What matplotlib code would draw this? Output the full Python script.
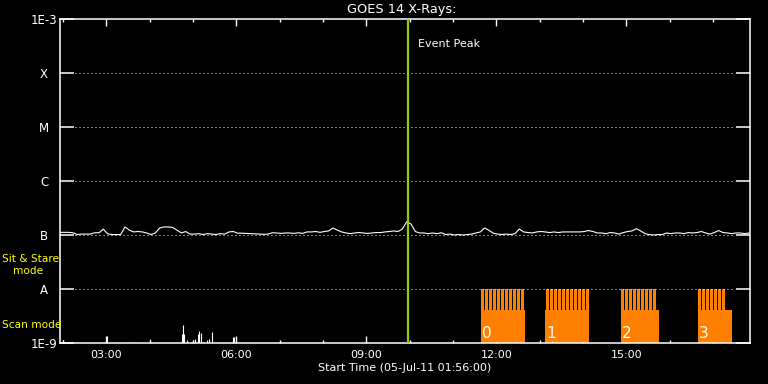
import numpy as np
import matplotlib
matplotlib.use('Agg')
import matplotlib.pyplot as plt
from matplotlib.ticker import FixedLocator, FuncFormatter

# GOES 14 long channel (1-8 A), units of 1e-8 W/m^2, one sample every 6 min from 01:56
t_start = 1 + 56 / 60
step_hr = 0.1
long_flux = [
    11.2, 11.2, 11.2, 11.0, 10.2, 10.4, 10.4, 10.4, 11.0, 11.0,
    12.8, 10.5, 10.2, 10.2, 10.2, 14.1, 12.3, 11.4, 11.6, 11.4,
    10.9, 10.2, 10.9, 13.5, 14.1, 14.1, 13.8, 12.3, 10.9, 11.6,
    10.4, 10.4, 10.6, 10.2, 10.6, 10.4, 10.2, 10.6, 10.4, 11.4,
    11.6, 10.8, 10.8, 10.7, 10.6, 10.5, 10.4, 10.3, 10.4, 11.0,
    10.9, 10.7, 10.9, 10.9, 10.7, 11.0, 10.7, 11.4, 11.4, 11.6,
    11.2, 11.6, 11.9, 13.5, 12.3, 11.4, 10.9, 10.6, 10.9, 11.1,
    10.9, 10.7, 10.9, 11.1, 11.1, 11.4, 11.6, 11.9, 11.6, 12.9,
    17.5, 16.0, 11.6, 10.9, 10.9, 10.6, 10.9, 10.6, 11.0, 10.2,
    10.4, 10.0, 10.2, 10.0, 10.2, 10.4, 10.9, 11.4, 13.5, 12.2,
    10.8, 10.4, 10.2, 10.4, 10.2, 10.6, 12.9, 11.4, 11.1, 10.9,
    11.4, 11.6, 11.4, 11.1, 11.4, 11.1, 11.4, 11.4, 11.4, 11.4,
    11.4, 11.6, 12.1, 11.6, 10.9, 10.9, 10.6, 11.1, 10.9, 10.4,
    11.1, 11.6, 11.9, 13.1, 11.9, 10.6, 10.2, 10.0, 10.2, 10.2,
    10.9, 10.6, 10.9, 10.9, 10.6, 11.1, 10.9, 11.1, 11.6, 10.9,
    10.4, 11.1, 12.1, 11.1, 10.9, 10.6, 10.9, 10.9, 10.6, 10.9,
]

# short channel spikes above the 1E-9 floor (hour, units of 1e-9 W/m^2)
short_times = [2.003, 3.018, 3.618, 4.010, 4.756, 4.779, 4.802, 4.857, 4.996, 5.042,
               5.125, 5.148, 5.187, 5.333, 5.379, 5.448, 5.919, 5.956, 13.287]
short_flux = [1.14, 1.35, 1.04, 1.19, 1.47, 2.15, 1.47, 1.14, 1.14, 1.19,
              1.47, 1.67, 1.53, 1.14, 1.19, 1.60, 1.29, 1.29, 1.09]

# observing blocks (scan mode base + sit & stare scans)
block_names = ['0', '1', '2', '3']
block_start = [11.649, 13.126, 14.880, 16.657]
block_end = [12.664, 14.141, 15.757, 17.441]
scan_times = [
    [11.649, 11.741, 11.834, 11.926, 12.018, 12.111, 12.203, 12.295, 12.387, 12.480, 12.572],
    [13.145, 13.237, 13.330, 13.422, 13.514, 13.607, 13.699, 13.791, 13.884, 13.976, 14.068],
    [14.880, 14.972, 15.065, 15.157, 15.249, 15.342, 15.434, 15.526, 15.618],
    [16.657, 16.749, 16.842, 16.934, 17.026, 17.119, 17.211],
]
scan_width = 0.074
block_level = 4.1e-9
scan_level = 1e-8

event_peak = 9.97
x_end = 17.857

class_levels = [1e-3, 1e-4, 1e-5, 1e-6, 1e-7, 1e-8, 1e-9]
class_labels = ['1E-3', 'X', 'M', 'C', 'B', 'A', '1E-9']

orange = '#ff8000'
peak_color = '#99cc00'

fig = plt.figure(figsize=(7.68, 3.84), dpi=100, facecolor='black')
ax = fig.add_axes([60 / 768, 41 / 384, 690 / 768, 324 / 384], facecolor='black')
ax.set_yscale('log')
ax.set_ylim(1e-9, 1e-3)
ax.set_xlim(t_start, x_end)

# observing blocks
for name, s, e, scans in zip(block_names, block_start, block_end, scan_times):
    ax.bar(s, block_level - 1e-9, bottom=1e-9, width=e - s, align='edge',
           color=orange, linewidth=0, zorder=2)
    ax.bar(scans, [scan_level - 1e-9] * len(scans), bottom=1e-9, width=scan_width,
           align='edge', color=orange, linewidth=0, antialiased=False, zorder=2)
    ax.text(s + 0.02, 1.07e-9, name, color='white', fontsize=11,
            ha='left', va='bottom', zorder=4)

# dotted class grid
for lev in class_levels[1:-1]:
    ax.axhline(lev, xmin=15 / 690, xmax=1 - 15 / 690, color='white', lw=0.72,
               linestyle=(0, (1, 3)), zorder=3)

times = t_start + step_hr * np.arange(len(long_flux))
ax.plot(times, np.array(long_flux) * 1e-8, color='white', lw=0.8, zorder=5)
ax.vlines(short_times, 1e-9, np.array(short_flux) * 1e-9, color='white', lw=0.8, zorder=5)

ax.axvline(event_peak, color=peak_color, lw=1.6, zorder=6)
ax.text(event_peak + 0.22, 3.4e-4, 'Event Peak', color='white', fontsize=8,
        ha='left', va='center')

for sp in ax.spines.values():
    sp.set_color('white')
    sp.set_linewidth(1.1)

ax.yaxis.set_major_locator(FixedLocator(class_levels))
ax.yaxis.set_minor_locator(FixedLocator([]))
ax.set_yticklabels(class_labels)
ax.tick_params(axis='y', which='major', direction='in', length=10, width=1.1,
               color='white', labelcolor='white', labelsize=8.5, pad=11.5,
               left=True, right=True)
for lab in ax.get_yticklabels():
    lab.set_horizontalalignment('center')

ax.xaxis.set_major_locator(FixedLocator([3, 6, 9, 12, 15]))
ax.xaxis.set_minor_locator(FixedLocator(list(range(2, 18))))
ax.xaxis.set_major_formatter(FuncFormatter(lambda v, p: f'{int(v):02d}:00'))
ax.tick_params(axis='x', which='major', direction='in', length=5, width=1,
               color='white', labelcolor='white', labelsize=8, pad=5,
               top=True, bottom=True)
ax.tick_params(axis='x', which='minor', direction='in', length=2.5, width=1,
               color='white', top=True, bottom=True)
ax.set_xlabel('Start Time (05-Jul-11 01:56:00)', color='white', fontsize=8, labelpad=2)

fig.text(402 / 768, 1 - 9.5 / 384, 'GOES 14 X-Rays:', color='white', fontsize=9.3,
         ha='center', va='center')
fig.text(2 / 768, 1 - 258.5 / 384, 'Sit & Stare', color='yellow', fontsize=7.6,
         ha='left', va='center', zorder=10)
fig.text(13 / 768, 1 - 271 / 384, 'mode', color='yellow', fontsize=7.6,
         ha='left', va='center', zorder=10)
fig.text(2 / 768, 1 - 324.5 / 384, 'Scan mode', color='yellow', fontsize=7.6,
         ha='left', va='center', zorder=10)

fig.savefig('out.png', dpi=100, facecolor='black')
